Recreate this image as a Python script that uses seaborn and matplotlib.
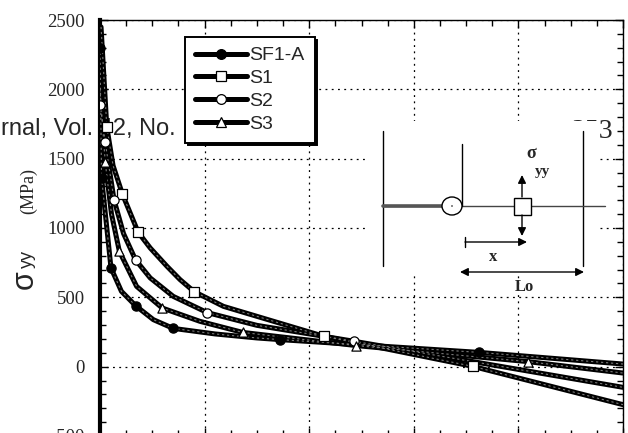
import numpy as np
import pandas as pd
import matplotlib
matplotlib.use("Agg")
import matplotlib.pyplot as plt
import seaborn as sns
from matplotlib.lines import Line2D
from matplotlib.patches import Rectangle, Ellipse, FancyArrowPatch
from matplotlib.transforms import Affine2D
from matplotlib.ticker import MultipleLocator, NullFormatter

# ---------------- data ----------------
series_names = ["SF1-A", "S1", "S2", "S3"]

sf1a_x = [0.0, 0.003, 0.021, 0.041, 0.068, 0.102, 0.140, 0.220, 0.300, 0.344, 0.725, 1.0]
sf1a_y = [2300, 1363, 712, 543, 440, 339, 276, 236, 207, 195, 103, 19]
sf1a_marks = [0, 1, 2, 4, 6, 9, 10]

s1_x = [0.002, 0.013, 0.025, 0.043, 0.073, 0.096, 0.128, 0.153, 0.180, 0.236, 0.300, 0.428, 0.713, 1.0]
s1_y = [2450, 1729, 1450, 1243, 969, 856, 724, 628, 541, 435, 363, 219, 2, -274]
s1_marks = [1, 3, 4, 8, 11, 12]

s2_x = [0.0, 0.010, 0.027, 0.045, 0.068, 0.096, 0.140, 0.205, 0.300, 0.486, 1.0]
s2_y = [1890, 1618, 1200, 960, 770, 640, 507, 390, 298, 183, -149]
s2_marks = [0, 1, 2, 4, 7, 9]

s3_x = [0.0, 0.010, 0.022, 0.037, 0.070, 0.119, 0.191, 0.273, 0.490, 0.819, 1.0]
s3_y = [2000, 1474, 1100, 832, 579, 423, 327, 247, 152, 36, -46]
s3_marks = [1, 3, 5, 7, 8, 9]

y_ticks = [-500, 0, 500, 1000, 1500, 2000, 2500]

# ---------------- style ----------------
sns.set_style("white")
plt.rcParams["font.family"] = ["Liberation Serif", "DejaVu Serif"]
plt.rcParams["axes.unicode_minus"] = False

W, H = 628, 433
fig = plt.figure(figsize=(W / 100, H / 100), dpi=100)
# axes: left 100px, right 623px, top 20px (2500), bottom ~436px (-500)
ax = fig.add_axes([100 / W, 1 - 436 / H, 523 / W, 416 / H])

series = [
    (series_names[0], sf1a_x, sf1a_y, sf1a_marks, "o", "black"),
    (series_names[1], s1_x, s1_y, s1_marks, "s", "white"),
    (series_names[2], s2_x, s2_y, s2_marks, "o", "white"),
    (series_names[3], s3_x, s3_y, s3_marks, "^", "white"),
]

for name, xs, ys, marks, mk, fc in series:
    df = pd.DataFrame({"x": xs, "y": ys})
    sns.lineplot(data=df, x="x", y="y", sort=False, color="black", lw=3.6,
                 ax=ax, zorder=3, legend=False)
    sns.lineplot(data=df, x="x", y="y", sort=False, color="#7a7a7a", lw=0.8,
                 linestyle=(0, (2, 2.5)), ax=ax, zorder=3.1, legend=False)
    mdf = df.iloc[marks]
    sns.scatterplot(data=mdf, x="x", y="y", marker=mk, s=44, color=fc,
                    edgecolor="black", linewidth=0.9, ax=ax, zorder=4,
                    legend=False)

ax.set_xlim(0, 1)
ax.set_ylim(-500, 2500)
ax.set_yticks(y_ticks)
ax.xaxis.set_major_locator(MultipleLocator(0.2))
ax.xaxis.set_minor_locator(MultipleLocator(0.05))
ax.yaxis.set_minor_locator(MultipleLocator(100))
ax.xaxis.set_major_formatter(NullFormatter())
ax.set_xlabel("")
ax.set_ylabel("")
ax.tick_params(which="both", direction="in", top=True, right=True,
               bottom=True, left=True, color="black")
ax.tick_params(which="major", length=6, width=1)
ax.tick_params(which="minor", length=4, width=1)
ax.tick_params(axis="y", which="major", labelsize=13.5, pad=11)
for lab in ax.get_yticklabels():
    lab.set_fontfamily("Liberation Serif")
for side, sp in ax.spines.items():
    sp.set_visible(True)
    sp.set_color("black")
    sp.set_linewidth(1.0)
ax.spines["left"].set_linewidth(3.0)
ax.set_axisbelow(True)
ax.grid(True, which="major", color="black", lw=0.9, linestyle=(0, (1.5, 3.5)))

# pixel transform (top-left origin)
T = Affine2D().scale(1 / W, -1 / H).translate(0, 1) + fig.transFigure

# page header text behind the chart
ax.text(1, 135, "rnal, Vol. 42, No.", transform=T, fontsize=17,
        family="Liberation Sans", ha="left", va="baseline", zorder=0.8,
        clip_on=False)
ax.text(572, 138, "253", transform=T, fontsize=20,
        family="Liberation Serif", ha="left", va="baseline", zorder=0.8,
        clip_on=False)

# y-axis label
fig.text(25 / W, 1 - 280 / H, "σ", rotation=90, fontsize=22,
         family="Liberation Sans", ha="center", va="center")
fig.text(27 / W, 1 - 259 / H, "yy", rotation=90, fontsize=13,
         family="Liberation Sans", ha="center", va="center")
fig.text(29 / W, 1 - 191 / H, "(MPa)", rotation=90, fontsize=13,
         family="Liberation Serif", ha="center", va="center")

# inset sketch
def L(xs, ys, lw=1.0, color="black", z=1.5):
    ax.add_line(Line2D(xs, ys, transform=T, lw=lw, color=color, zorder=z,
                       clip_on=False))

ax.add_patch(Rectangle((368, 121), 231, 154, transform=T, fc="white",
                       ec="none", zorder=1, clip_on=False))
L([383, 383], [131, 266])
L([583, 583], [131, 266])
L([383, 605], [206, 206], lw=1.0, color="#444444")
L([383, 443], [206, 206], lw=2.6, color="#555555")
L([462, 462], [144, 206])
ax.add_patch(Ellipse((452, 206), 20, 18, transform=T, fc="white", ec="black",
                     lw=1.0, zorder=1.6, clip_on=False))
ax.add_patch(Ellipse((452, 206), 1.5, 1.5, transform=T, fc="black", ec="none",
                     zorder=1.7, clip_on=False))
ax.add_patch(Rectangle((513.5, 197.5), 17, 17, transform=T, fc="white",
                       ec="black", lw=1.0, zorder=1.6, clip_on=False))
for a, b, style in [((522, 197), (522, 175), "-|>"),
                    ((522, 215), (522, 236), "-|>"),
                    ((465, 242), (527, 242), "-|>"),
                    ((460, 272), (584, 272), "<|-|>")]:
    ax.add_patch(FancyArrowPatch(a, b, transform=T, arrowstyle=style,
                                 mutation_scale=12, lw=1.0, color="black",
                                 shrinkA=0, shrinkB=0, zorder=1.7,
                                 clip_on=False))
L([465, 465], [237, 247])
ax.text(531, 154, "σ", transform=T, fontsize=13, fontweight="bold",
        family="Liberation Serif", ha="center", va="center", zorder=1.8)
ax.text(542, 171, "yy", transform=T, fontsize=11, fontweight="bold",
        family="Liberation Serif", ha="center", va="center", zorder=1.8)
ax.text(493, 257, "x", transform=T, fontsize=12, fontweight="bold",
        family="Liberation Serif", ha="center", va="center", zorder=1.8)
ax.text(524, 287, "Lo", transform=T, fontsize=12, fontweight="bold",
        family="Liberation Serif", ha="center", va="center", zorder=1.8)

# legend
handles = []
for name, xs, ys, marks, mk, fc in series:
    handles.append(Line2D([], [], color="black", lw=3.6, marker=mk,
                          markersize=7, markerfacecolor=fc,
                          markeredgecolor="black", markeredgewidth=0.9))
leg = ax.legend(handles=handles, labels=series_names, loc="upper left",
                bbox_to_anchor=(185 / W, 1 - 37 / H),
                bbox_transform=fig.transFigure, borderaxespad=0,
                prop={"family": "Liberation Sans", "size": 14},
                handlelength=2.7, handletextpad=0.12, labelspacing=0.27,
                borderpad=0.5, frameon=True, fancybox=False,
                shadow={"color": "black", "alpha": 1.0})
leg.get_frame().set_edgecolor("black")
leg.get_frame().set_linewidth(1.4)
leg.set_zorder(6)

fig.savefig("out.png", dpi=100)
